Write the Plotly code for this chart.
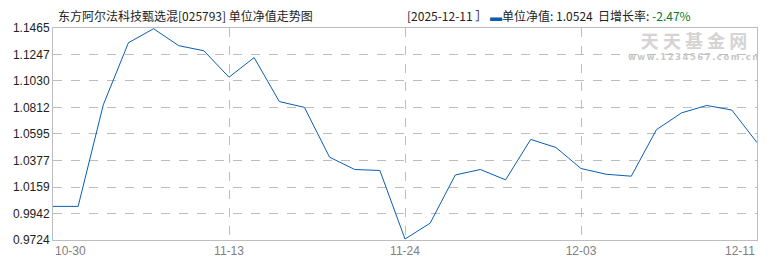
import plotly.graph_objects as go

# ---- data ----
nav = [1.0000, 1.0000, 1.0834, 1.1344, 1.1459, 1.1320, 1.1278, 1.1061, 1.1222,
       1.0861, 1.0813, 1.0404, 1.0303, 1.0295, 0.9732, 0.9862, 1.0258, 1.0303,
       1.0218, 1.0550, 1.0484, 1.0311, 1.0264, 1.0248, 1.0630, 1.0768, 1.0829,
       1.0791, 1.0524]
x_idx = list(range(len(nav)))
grid_tick_pos = [7, 14, 21]
grid_tick_labels = ["11-13", "11-24", "12-03"]
edge_tick_pos = [0, 28]
edge_tick_labels = ["10-30", "12-11"]
y_ticks = [0.9724, 0.9942, 1.0159, 1.0377, 1.0595, 1.0812, 1.1030, 1.1247, 1.1465]
y_tick_labels = ["0.9724", "0.9942", "1.0159", "1.0377", "1.0595", "1.0812",
                 "1.1030", "1.1247", "1.1465"]
title_text = "东方阿尔法科技甄选混[025793] 单位净值走势图"
last_date = "2025-12-11"
last_nav = "1.0524"
last_chg = "-2.47%"

L, R, T, B = 53, 12, 28, 24
W, H = 770, 270
PW = W - L - R
PH = H - T - B

def px(xp):
    return (xp - L) / PW

def py(yp):
    return (H - B - yp) / PH

CJK = "Noto Sans CJK SC"
fig = go.Figure()
fig.add_trace(go.Scatter(x=x_idx, y=nav, mode="lines",
                         line=dict(color="#0a5eb0", width=1), hoverinfo="skip"))

annotations = []
annotations.append(dict(x=px(56), y=py(15), xref="paper", yref="paper", xanchor="left",
                        yanchor="middle", showarrow=False, text=title_text,
                        font=dict(family=CJK, size=12, color="#222")))
hdr = (f"[{last_date} ］ <span style='color:#0a5eb0'>▬</span>单位净值: {last_nav}  "
       f"日增长率: <span style='color:#007a33'>{last_chg}</span>")
annotations.append(dict(x=px(406), y=py(15), xref="paper", yref="paper", xanchor="left",
                        yanchor="middle", showarrow=False, text=hdr,
                        font=dict(family=CJK, size=12, color="#222")))
# watermark (two lines in one text block)
wm = ("<span style='font-size:18px;font-weight:bold;color:#d4d4d4'>天 天 基 金 网</span><br>"
      "<span style='font-family:DejaVu Sans;font-size:8.5px;font-weight:bold;letter-spacing:1.5px'>"
      "www.1234567.com.cn</span>")
annotations.append(dict(x=px(695), y=py(45), xref="paper", yref="paper", xanchor="center",
                        yanchor="middle", showarrow=False, text=wm, align="center",
                        font=dict(family=CJK, size=9, color="#c8c8c8")))
# edge x labels
for pos, lab, anc in zip(edge_tick_pos, edge_tick_labels, ["left", "right"]):
    annotations.append(dict(x=pos, y=py(257), xref="x", yref="paper", xanchor=anc,
                            yanchor="middle", showarrow=False, text=lab,
                            font=dict(family="Liberation Sans", size=12, color="#808080")))

fig.update_layout(
    width=W, height=H, margin=dict(l=L, r=R, t=T, b=B),
    paper_bgcolor="white", plot_bgcolor="white", showlegend=False,
    annotations=annotations,
    xaxis=dict(range=[0, 28], tickmode="array", tickvals=grid_tick_pos,
               ticktext=grid_tick_labels, showgrid=True, gridcolor="#bdbdbd",
               griddash="dash", gridwidth=1, zeroline=False, showline=True,
               linecolor="#bdbdbd", linewidth=1, mirror=True, ticks="",
               tickfont=dict(family="Liberation Sans", size=12, color="#808080")),
    yaxis=dict(range=[0.9724, 1.1465], tickmode="array", tickvals=y_ticks,
               ticktext=y_tick_labels, showgrid=True, gridcolor="#bdbdbd",
               griddash="dash", gridwidth=1, zeroline=False, showline=True,
               linecolor="#bdbdbd", linewidth=1, mirror=True, ticks="",
               tickfont=dict(family="Liberation Sans", size=12, color="#222")),
)
fig.write_html("out.html")
